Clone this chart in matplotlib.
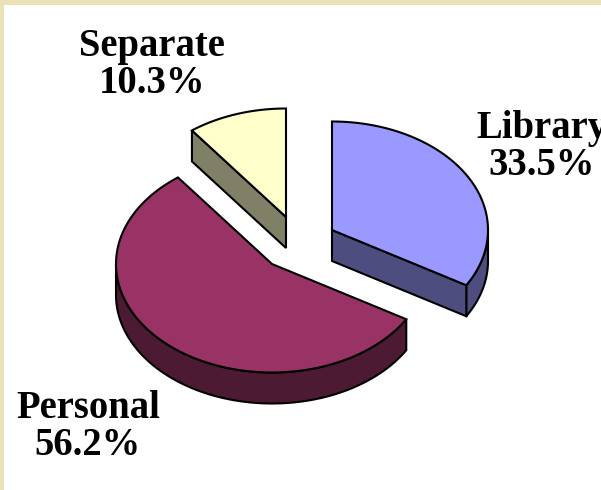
import numpy as np
import matplotlib.pyplot as plt
from matplotlib.patches import Polygon, Rectangle

labels = ['Library', 'Personal', 'Separate']
shares = [33.5, 56.2, 10.3]

top_colors = ['#9999FF', '#993366', '#FFFFCC']
side_colors = ['#4D4D80', '#4D1A33', '#808066']
apex_x = [332, 272, 286]
apex_y = [230, 264, 217]
label_x = [542, 88, 152]
label_y = [147, 427, 65]

rx = 156
ry = 108.5
depth = 31
bg = '#E9E2B8'
edge = 'black'
lw = 1.5

fig = plt.figure(figsize=(6.01, 4.90), dpi=100, facecolor='white')
ax = fig.add_axes([0, 0, 1, 1])
ax.set_xlim(0, 601)
ax.set_ylim(490, 0)
ax.axis('off')

# frame on the top and left
ax.add_patch(Rectangle((0, 0), 601, 5, color=bg, lw=0))
ax.add_patch(Rectangle((0, 0), 4, 490, color=bg, lw=0))


def rim(x0, y0, a0, a1):
    t = np.radians(np.linspace(a0, a1, 120))
    return np.column_stack([x0 + rx * np.sin(t), y0 - ry * np.cos(t)])


# angles clockwise from 12 o'clock
edges = np.concatenate([[0], np.cumsum(shares)]) / sum(shares) * 360
down = np.array([0, depth])

for i in [2, 1, 0]:
    a0, a1 = edges[i], edges[i + 1]
    apex = np.array([apex_x[i], apex_y[i]])
    arc = rim(apex[0], apex[1], a0, a1)

    # outer wall, only the part facing the viewer (90..270 deg)
    w0, w1 = max(a0, 90), min(a1, 270)
    if w1 > w0:
        wall = rim(apex[0], apex[1], w0, w1)
        ax.add_patch(Polygon(np.vstack([wall, (wall + down)[::-1]]), fc=side_colors[i], ec=edge, lw=lw))

    # cut faces that can be seen from above
    if a0 >= 270:
        pts = np.array([arc[0], apex, apex + down, arc[0] + down])
        ax.add_patch(Polygon(pts, fc=side_colors[i], ec=edge, lw=lw))
    if a1 < 180:
        pts = np.array([apex, arc[-1], arc[-1] + down, apex + down])
        ax.add_patch(Polygon(pts, fc=side_colors[i], ec=edge, lw=lw))

    ax.add_patch(Polygon(np.vstack([apex, arc]), fc=top_colors[i], ec=edge, lw=lw))

    ax.text(label_x[i], label_y[i], f'{labels[i]}\n{shares[i]}%', ha='center', va='center',
            family='Liberation Serif', weight='bold', fontsize=27.8, linespacing=1.03, color='black')

fig.savefig('out.png', dpi=100, facecolor='white')
